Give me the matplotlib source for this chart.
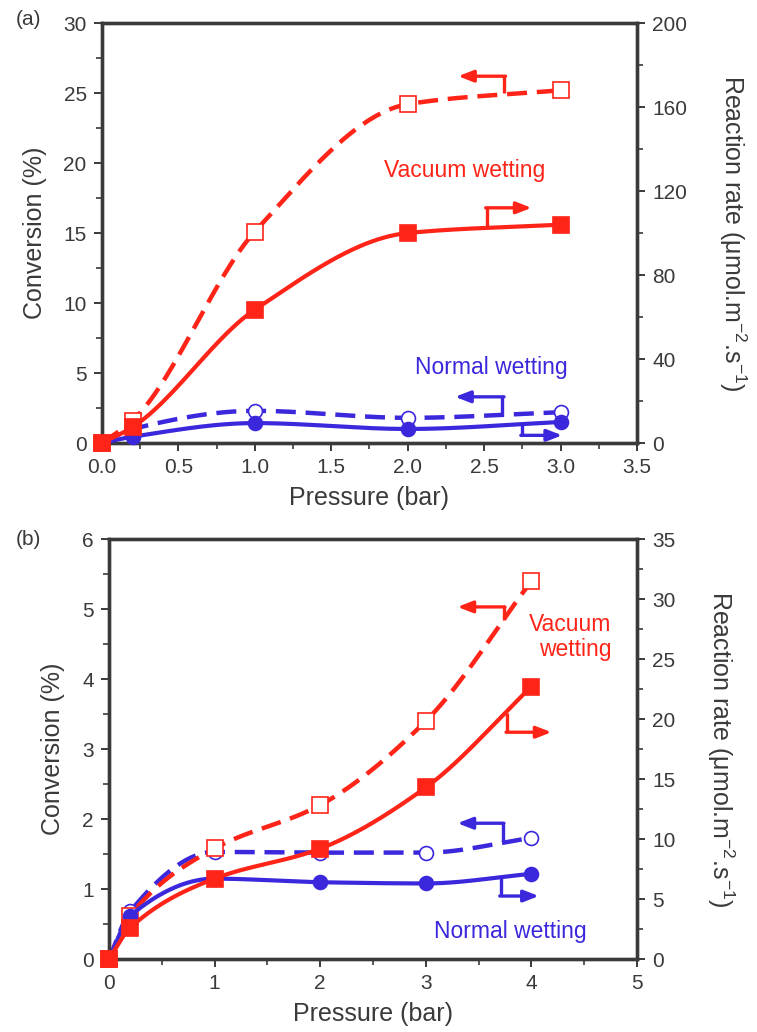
import numpy as np
import matplotlib
matplotlib.use("Agg")
import matplotlib.pyplot as plt
from matplotlib.ticker import MultipleLocator, FormatStrFormatter

plt.rcParams["font.family"] = ["Liberation Sans", "DejaVu Sans"]
plt.rcParams["mathtext.default"] = "regular"

RED = "#ff2418"
BLUE = "#3b28dc"
GREY = "#3a3a3a"

# panel (a)
pa = [0, 0.2, 1, 2, 3]
conv_vac_a = [0, 1.6, 15.1, 24.2, 25.2]
rate_vac_a = [0, 7.6, 63.5, 100.0, 104.0]
conv_norm_a = [0, 1.0, 2.3, 1.8, 2.2]
rate_norm_a = [0, 3.0, 9.5, 6.7, 10.0]

# panel (b)
pb = [0, 0.2, 1, 2, 3, 4]
conv_vac_b = [0, 0.62, 1.58, 2.2, 3.4, 5.4]
rate_vac_b = [0, 2.6, 6.7, 9.2, 14.3, 22.7]
conv_norm_b = [0, 0.68, 1.53, 1.52, 1.52, 1.73]
rate_norm_b = [0, 3.6, 6.7, 6.4, 6.3, 7.1]


def smooth(x, y, n=300):
    """monotone cubic (Fritsch-Carlson) curve, only for drawing the line through the points"""
    x = np.asarray(x, float)
    y = np.asarray(y, float)
    h = np.diff(x)
    d = np.diff(y) / h
    m = np.zeros_like(y)
    m[0], m[-1] = d[0], d[-1]
    for i in range(1, len(x) - 1):
        if d[i - 1] * d[i] > 0:
            w1 = 2 * h[i] + h[i - 1]
            w2 = h[i] + 2 * h[i - 1]
            m[i] = (w1 + w2) / (w1 / d[i - 1] + w2 / d[i])
    xs = np.linspace(x[0], x[-1], n)
    j = np.clip(np.searchsorted(x, xs) - 1, 0, len(x) - 2)
    t = (xs - x[j]) / h[j]
    h00 = 2 * t ** 3 - 3 * t ** 2 + 1
    h10 = t ** 3 - 2 * t ** 2 + t
    h01 = -2 * t ** 3 + 3 * t ** 2
    h11 = t ** 3 - t ** 2
    ys = h00 * y[j] + h10 * h[j] * m[j] + h01 * y[j + 1] + h11 * h[j] * m[j + 1]
    return xs, ys


def series(ax, x, y, color, marker, filled, dashed):
    xs, ys = smooth(x, y)
    if dashed:
        ax.plot(xs, ys, color=color, lw=3.2, dashes=(4.5, 2.2), clip_on=False, zorder=3)
    else:
        ax.plot(xs, ys, color=color, lw=3.0, clip_on=False, zorder=3)
    ms = 11 if marker == "s" else 10
    ax.plot(x, y, ls="none", marker=marker, ms=ms,
            mfc=color if filled else "white", mec=color,
            mew=1.2, clip_on=False, zorder=4)


def l_arrow(ax, x0, y_start, y_turn, x_tip, color):
    ax.plot([x0, x0], [y_start, y_turn], color=color, lw=2.4, zorder=5,
            solid_capstyle="butt")
    ax.annotate("", xy=(x_tip, y_turn), xytext=(x0 + (0.01 if x_tip < x0 else -0.01), y_turn),
                arrowprops=dict(arrowstyle="-|>,head_length=0.9,head_width=0.35",
                                color=color, lw=2.4, shrinkA=0, shrinkB=0),
                zorder=5)


def style(ax, ax2, xmax, xmaj, xmin, ymax, ymaj, ymin, y2max, y2maj, y2min, xfmt):
    ax.set_xlim(0, xmax)
    ax.set_ylim(0, ymax)
    ax2.set_ylim(0, y2max)
    ax.xaxis.set_major_locator(MultipleLocator(xmaj))
    ax.xaxis.set_minor_locator(MultipleLocator(xmin))
    ax.xaxis.set_major_formatter(FormatStrFormatter(xfmt))
    ax.yaxis.set_major_locator(MultipleLocator(ymaj))
    ax.yaxis.set_minor_locator(MultipleLocator(ymin))
    ax2.yaxis.set_major_locator(MultipleLocator(y2maj))
    ax2.yaxis.set_minor_locator(MultipleLocator(y2min))
    for a in (ax, ax2):
        for s in a.spines.values():
            s.set_linewidth(2.4)
            s.set_color(GREY)
        a.tick_params(which="major", direction="out", length=6, width=1.4,
                      labelsize=15, colors=GREY, pad=5)
        a.tick_params(which="minor", direction="out", length=4, width=1.2, colors=GREY)
    ax.tick_params(axis="both", top=False, right=False, which="both")
    ax.set_xlabel("Pressure (bar)", fontsize=18, color=GREY, labelpad=6)
    ax.set_ylabel("Conversion (%)", fontsize=18, color=GREY, labelpad=12)
    ax2.set_ylabel("Reaction rate (μmol.m$^{-2}$.s$^{-1}$)", fontsize=18,
                   color=GREY, rotation=270, labelpad=44)


fig = plt.figure(figsize=(7.57, 10.32), dpi=100)

# ---- (a)
ax = fig.add_axes([0.1347, 0.5707, 0.7068, 0.407])
ax2 = ax.twinx()
style(ax, ax2, 3.5, 0.5, 0.25, 30, 5, 2.5, 200, 40, 20, "%.1f")
series(ax, pa, conv_norm_a, BLUE, "o", False, True)
series(ax2, pa, rate_norm_a, BLUE, "o", True, False)
series(ax, pa, conv_vac_a, RED, "s", False, True)
series(ax2, pa, rate_vac_a, RED, "s", True, False)
l_arrow(ax, 2.63, 25.0, 26.2, 2.33, RED)
l_arrow(ax, 2.52, 15.4, 16.8, 2.81, RED)
l_arrow(ax, 2.62, 2.0, 3.3, 2.31, BLUE)
l_arrow(ax, 2.75, 1.4, 0.55, 3.01, BLUE)
ax.text(2.37, 19.5, "Vacuum wetting", color=RED, fontsize=16.5, ha="center", va="center")
ax.text(2.55, 5.4, "Normal wetting", color=BLUE, fontsize=16.5, ha="center", va="center")
fig.text(0.037, 0.981, "(a)", fontsize=15, color=GREY, ha="center", va="center")

# ---- (b)
bx = fig.add_axes([0.144, 0.0707, 0.6975, 0.407])
bx2 = bx.twinx()
style(bx, bx2, 5, 1, 0.5, 6, 1, 0.5, 35, 5, 2.5, "%d")
series(bx, pb, conv_norm_b, BLUE, "o", False, True)
series(bx2, pb, rate_norm_b, BLUE, "o", True, False)
series(bx, pb, conv_vac_b, RED, "s", False, True)
series(bx2, pb, rate_vac_b, RED, "s", True, False)
l_arrow(bx, 3.74, 4.84, 5.03, 3.30, RED)
l_arrow(bx, 3.77, 3.51, 3.24, 4.19, RED)
l_arrow(bx, 3.73, 1.69, 1.94, 3.30, BLUE)
l_arrow(bx, 3.71, 1.2, 0.9, 4.07, BLUE)
bx.text(4.76, 4.6, "Vacuum\nwetting", color=RED, fontsize=16.5, ha="right", va="center",
        multialignment="right", linespacing=1.1)
bx.text(3.80, 0.39, "Normal wetting", color=BLUE, fontsize=16.5, ha="center", va="center")
fig.text(0.037, 0.477, "(b)", fontsize=15, color=GREY, ha="center", va="center")

fig.savefig("out.png", dpi=100)
